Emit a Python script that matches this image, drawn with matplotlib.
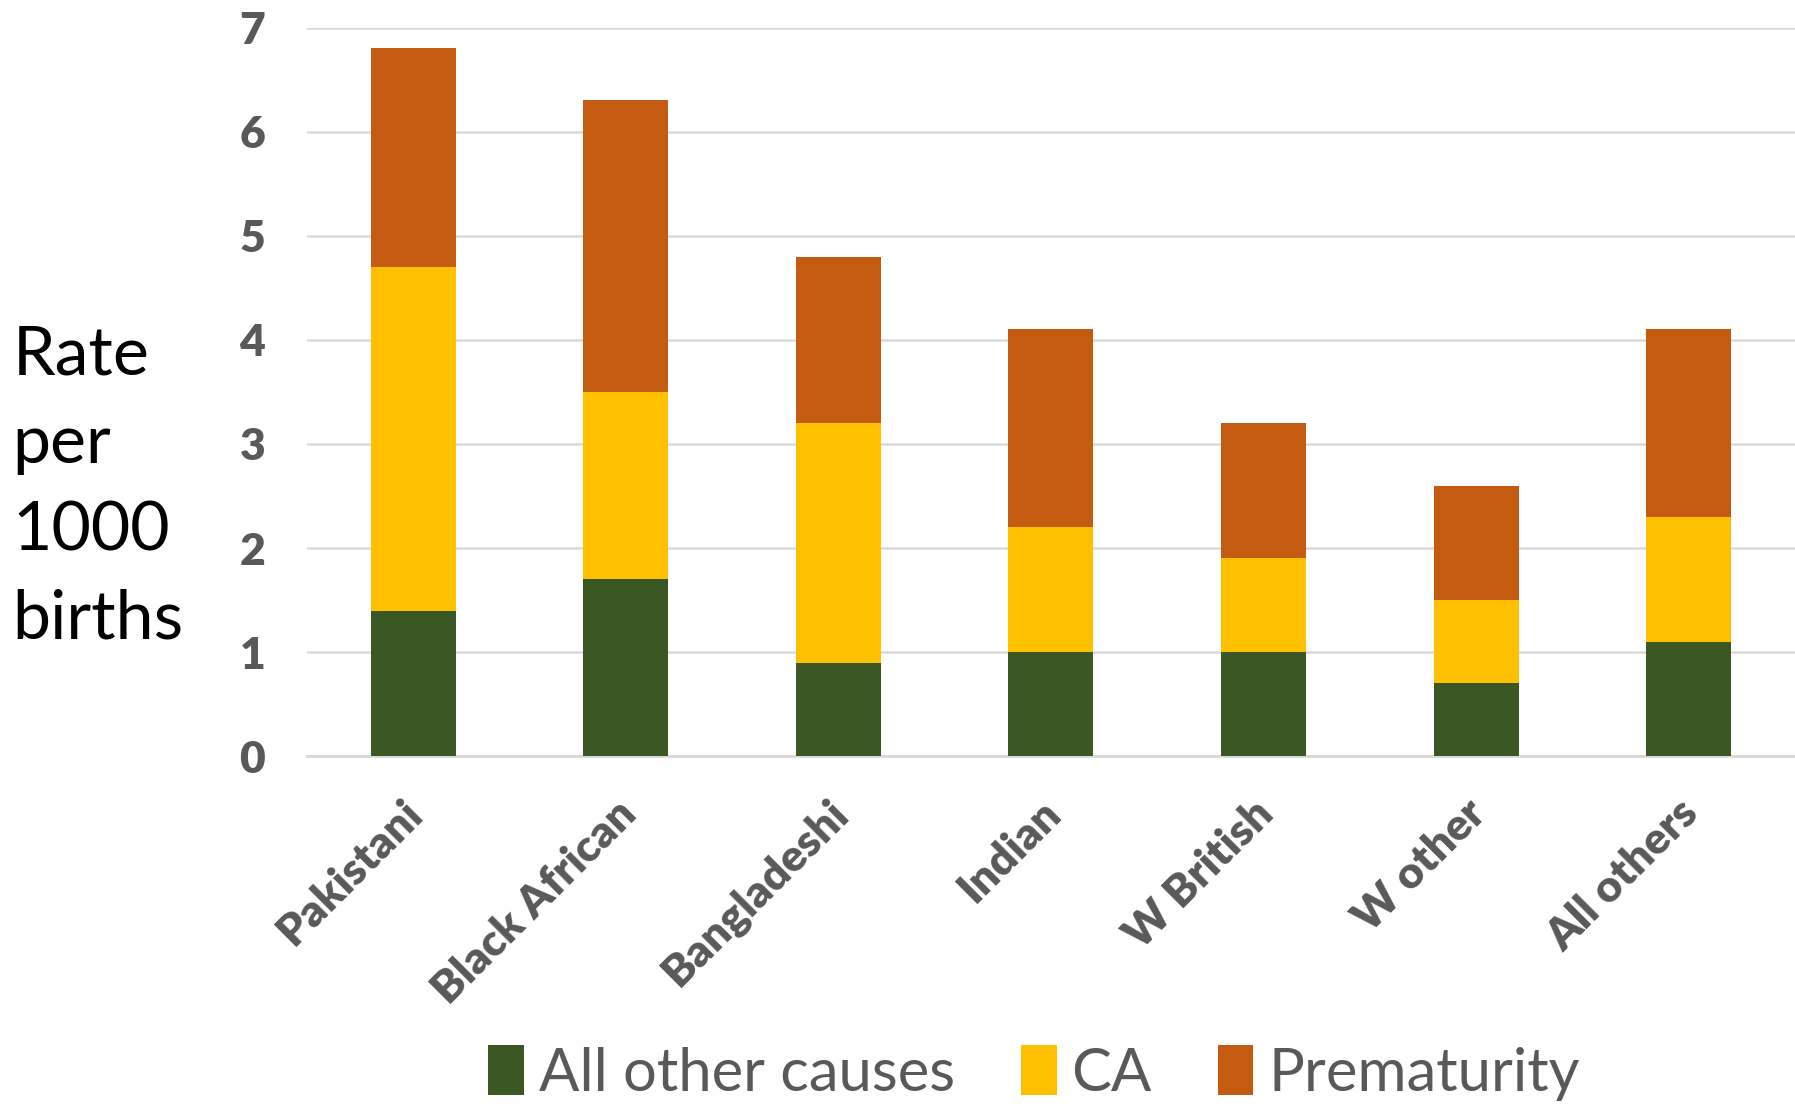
import matplotlib
matplotlib.use("Agg")
import matplotlib.pyplot as plt
import matplotlib.transforms as mtransforms
import numpy as np

categories = ["Pakistani", "Black African", "Bangladeshi", "Indian", "W British", "W other", "All others"]
all_other_causes = [1.4, 1.7, 0.9, 1.0, 1.0, 0.7, 1.1]
ca = [3.3, 1.8, 2.3, 1.2, 0.9, 0.8, 1.2]
prematurity = [2.1, 2.8, 1.6, 1.9, 1.3, 1.1, 1.8]
series_names = ["All other causes", "CA", "Prematurity"]
colors = ["#3A5724", "#FFC000", "#C55A11"]
yticks = [0, 1, 2, 3, 4, 5, 6, 7]

plt.rcParams['font.family'] = ['Lato', 'DejaVu Sans']

fig = plt.figure(figsize=(17.95, 11.04), dpi=100)
ax = fig.add_axes([0.171, 0.315, 0.829, 0.66])

x = np.arange(len(categories))
bottom = np.zeros(len(categories))
for name, vals, c in zip(series_names, [all_other_causes, ca, prematurity], colors):
    ax.bar(x, vals, width=0.4, bottom=bottom, color=c, label=name, zorder=3)
    bottom += np.array(vals)

ax.set_xlim(-0.5, len(categories) - 0.5)
ax.set_ylim(0, 7)
ax.set_yticks(yticks)
ax.set_yticklabels([str(t) for t in yticks], fontsize=32, fontweight='heavy', color='#595959')
ax.yaxis.grid(True, color='#D9D9D9', linewidth=1.8, zorder=0)
ax.set_axisbelow(True)
ax.tick_params(axis='y', length=0, pad=30)
ax.tick_params(axis='x', length=0, pad=24)
ax.set_xticks(x)
ax.set_xticklabels(categories, rotation=45, ha='right', rotation_mode='anchor',
                   fontsize=32, fontweight='heavy', color='#595959')
offset = mtransforms.ScaledTranslation(-0.11, -0.03, fig.dpi_scale_trans)
for lbl in ax.get_xticklabels():
    lbl.set_transform(lbl.get_transform() + offset)
for s in ['top', 'right', 'left']:
    ax.spines[s].set_visible(False)
ax.spines['bottom'].set_color('#D9D9D9')
ax.spines['bottom'].set_linewidth(2)

fig.text(0.007, 0.558, "Rate\nper\n1000\nbirths", fontsize=49, color='black',
         ha='left', va='center', linespacing=1.52)

leg = fig.legend(loc='center', bbox_to_anchor=(0.576, 0.028), ncol=3, frameon=False,
                 fontsize=43, handlelength=0.6, handleheight=0.9, handletextpad=0.25,
                 columnspacing=1.1)
for t in leg.get_texts():
    t.set_color('#595959')

fig.savefig("out.png", dpi=100)
